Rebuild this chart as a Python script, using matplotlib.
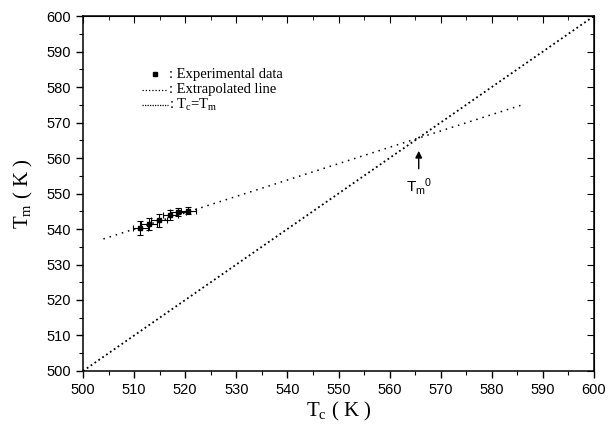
import matplotlib
matplotlib.use('Agg')
import matplotlib.pyplot as plt
from matplotlib.ticker import MultipleLocator

plt.rcParams['mathtext.default'] = 'regular'

# crystallization temperature vs melting temperature
tc = [511.2, 512.9, 514.9, 517.1, 518.6, 520.6]
tm = [540.3, 541.4, 542.5, 543.9, 544.8, 545.1]
tc_err = [1.5, 1.5, 1.5, 1.5, 1.5, 1.5]
tm_err = [2.0, 1.8, 1.8, 1.5, 1.2, 1.0]

# extrapolated line end points
ext_tc = [504.0, 586.0]
ext_tm = [537.2, 575.0]

# Tc = Tm
diag = [500.0, 600.0]

tm0 = 565.7

fig = plt.figure(figsize=(6.08, 4.33), dpi=100)
ax = fig.add_axes([0.1365, 0.1432, 0.8405, 0.8198])

ax.errorbar(tc, tm, xerr=tc_err, yerr=tm_err, fmt='s', color='black',
            markersize=3, elinewidth=0.8, capsize=2, capthick=0.8)
ax.plot(ext_tc, ext_tm, color='black', lw=1.1, dashes=(1, 3.2))
ax.plot(diag, diag, color='black', lw=1.3, dashes=(1, 1.6))

ax.annotate('', xy=(tm0, 562.8), xytext=(tm0, 556.2),
            arrowprops=dict(arrowstyle='-|>', color='black', lw=1.0,
                            mutation_scale=10))
ax.text(tm0, 552.0, 'T$_m$$^0$', ha='center', va='center',
        fontsize=11, family='Liberation Sans')

# legend drawn by hand
ax.plot([514.0], [583.6], 's', color='black', markersize=2.5)
ax.plot([511.6, 516.6], [579.3, 579.3], color='black', lw=0.9, dashes=(1, 1.6))
ax.plot([511.6, 516.6], [575.0, 575.0], color='black', lw=0.9, dashes=(1, 1.0))
leg_font = dict(fontsize=10.5, family='Liberation Serif', va='center', ha='left')
ax.text(516.8, 583.6, ': Experimental data', **leg_font)
ax.text(516.8, 579.3, ': Extrapolated line', **leg_font)
ax.text(516.8, 575.0, ': T$_c$=T$_m$', **leg_font)

ax.set_xlim(500, 600)
ax.set_ylim(500, 600)
ax.xaxis.set_major_locator(MultipleLocator(10))
ax.xaxis.set_minor_locator(MultipleLocator(5))
ax.yaxis.set_major_locator(MultipleLocator(10))
ax.yaxis.set_minor_locator(MultipleLocator(5))
ax.tick_params(which='major', direction='out', length=5, width=1,
               labelsize=10.5)
ax.tick_params(which='minor', direction='out', length=3, width=0.8)
for lab in ax.get_xticklabels() + ax.get_yticklabels():
    lab.set_family('Liberation Sans')

# inward ticks on top and right
sec_x = ax.secondary_xaxis('top')
sec_x.xaxis.set_major_locator(MultipleLocator(10))
sec_x.xaxis.set_minor_locator(MultipleLocator(5))
sec_x.tick_params(which='major', direction='in', length=5, labeltop=False)
sec_x.tick_params(which='minor', direction='in', length=3)
sec_y = ax.secondary_yaxis('right')
sec_y.yaxis.set_major_locator(MultipleLocator(10))
sec_y.yaxis.set_minor_locator(MultipleLocator(5))
sec_y.tick_params(which='major', direction='in', length=5, labelright=False)
sec_y.tick_params(which='minor', direction='in', length=3)

for sp in ax.spines.values():
    sp.set_linewidth(1.1)

ax.set_xlabel('T$_c$ ( K )', fontsize=15, family='Liberation Serif', labelpad=2)
ax.set_ylabel('T$_m$ ( K )', fontsize=15, family='Liberation Serif', labelpad=8)

fig.savefig('out.png', dpi=100)
